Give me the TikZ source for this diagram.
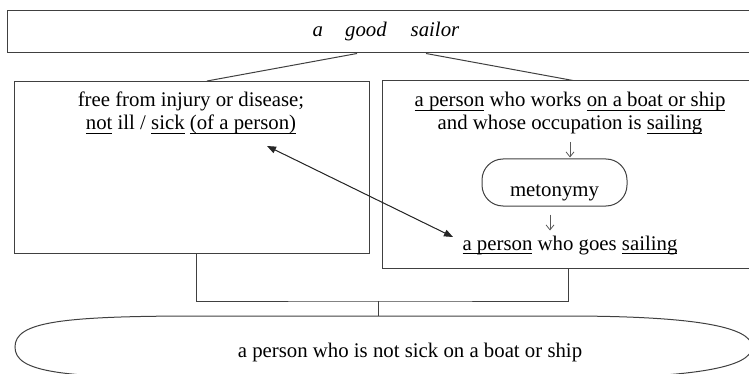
\documentclass[tikz,border=0pt]{standalone}
\usepackage{fontspec}
\setmainfont{Liberation Serif}
\usetikzlibrary{arrows.meta}
\newsavebox\ulbox
\newcommand\myul[1]{\sbox\ulbox{#1}\rlap{\rule[-3.8pt]{\wd\ulbox}{0.9pt}}\usebox\ulbox}
\begin{document}
\begin{tikzpicture}[x=1pt,y=-1pt,
  every node/.style={font=\fontsize{20.8}{25}\selectfont, inner sep=0pt},
  frame/.style={draw=black!75, line width=1pt},
  txt/.style={anchor=base, text=black},
  link/.style={draw=black!75, line width=1pt},
  dbl/.style={{Triangle[length=9pt,width=7pt]}-{Triangle[length=9pt,width=7pt]}, line width=1pt, draw=black!85, fill=black!85},
  smallarr/.style={-{Straight Barb[length=5pt,width=8pt,line width=0.8pt]}, line width=0.8pt, draw=black!65}
]
\useasboundingbox (0,0) rectangle (749,374);
% top box
\node[frame, minimum width=758pt, minimum height=42pt] (T) at (386,32) {};
\node[txt, font=\fontsize{20.8}{25}\selectfont\itshape] (Tt) at (386,37) {a\hspace{22pt}good\hspace{24pt}sailor};
% left box
\node[frame, minimum width=355pt, minimum height=171.5pt] (L) at (191.5,167.25) {};
\node[txt] (Lt1) at (191,107) {free from injury or disease;};
\node[txt] (Lt2) at (191,130) {\myul{not} ill / \myul{sick} \myul{(of a person)}};
% right box
\node[frame, minimum width=377pt, minimum height=187pt] (R) at (570.5,174.5) {};
\node[txt] (Rt1) at (570,107) {\myul{a person} who works \myul{on a boat or ship}};
\node[txt] (Rt2) at (570,130) {and whose occupation is \myul{sailing}};
\node[frame, rounded corners=21pt, minimum width=145pt, minimum height=47pt, text height=28pt, text depth=0pt] (met) at (554.5,182.5) {metonymy};
\node[txt] (Rb) at (570,250) {\myul{a person} who goes \myul{sailing}};
\coordinate (m2) at ([xshift=-4.5pt]met.south);
\draw[smallarr] ([yshift=-12pt]Rt2.base) -- ([yshift=1pt]met.north -| Rt2.base);
\draw[smallarr] ([yshift=-8pt]m2) -- ([yshift=-24pt]m2);
% bottom shape
\node[minimum width=737pt, minimum height=62pt] (E) at (383.5,347) {};
\draw[frame] (15,347) .. controls (15,322) and (60,316) .. (200,316) -- (565,316)
  .. controls (690,316) and (752,326) .. (752,347)
  .. controls (752,368) and (690,378) .. (565,378) -- (200,378)
  .. controls (60,378) and (15,372) .. (15,347) -- cycle;
\node[txt] (Et) at (410,357) {a person who is not sick on a boat or ship};
% connectors
\draw[link] ([xshift=-29pt]T.south) -- ([xshift=15.5pt]L.north);
\draw[link] ([xshift=40pt]T.south) -- ([xshift=2.5pt]R.north);
\coordinate (J) at (378,301);
\draw[link] ([xshift=4.5pt]L.south) |- (J) -| ([xshift=-2.5pt]R.south);
\draw[link] (J) -- (J |- E.north);
\coordinate (a1) at (267,146);
\coordinate (a2) at (453,237);
\draw[dbl] (a1) -- (a2);
\end{tikzpicture}
\end{document}
